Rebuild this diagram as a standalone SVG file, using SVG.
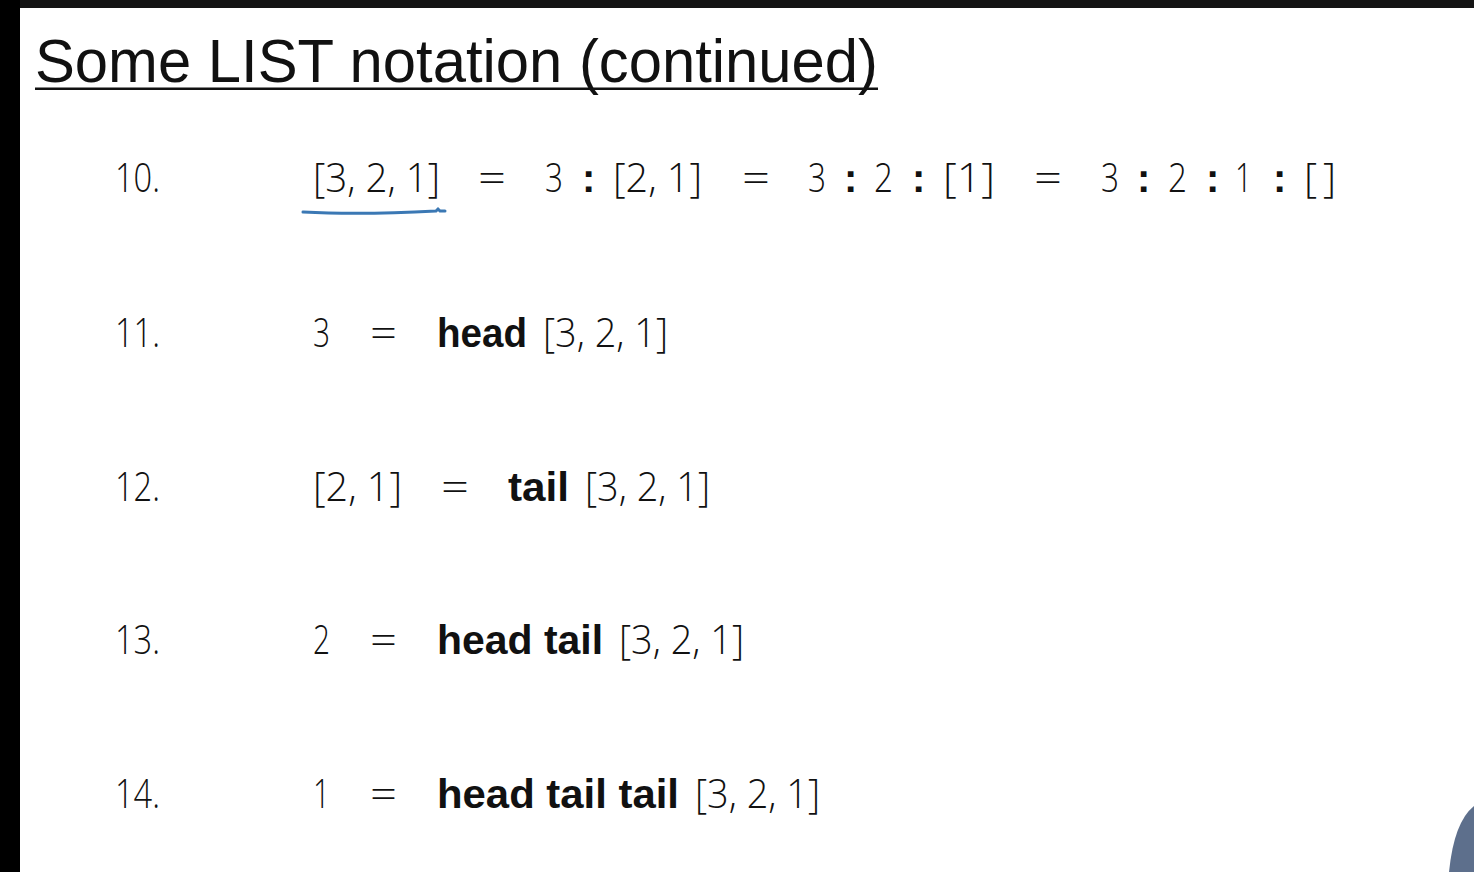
<svg xmlns="http://www.w3.org/2000/svg" width="1474" height="872" viewBox="0 0 1474 872">
<style>
.m{font-family:"Open Sans","Liberation Sans",sans-serif;font-weight:300;font-size:41px;fill:#111}
.b{font-family:"Liberation Sans","Open Sans",sans-serif;font-weight:700;font-size:40px;fill:#111}
.c{font-family:"Liberation Sans",sans-serif;font-weight:700;font-size:40px;fill:#111}
.t{font-family:"Liberation Sans",Arial,sans-serif;font-size:62px;fill:#111}
</style>
<rect x="0" y="0" width="1474" height="872" fill="#ffffff"/>
<rect x="0" y="0" width="1474" height="8" fill="#141414"/>
<rect x="0" y="0" width="20" height="872" fill="#000"/>
<g id="title">
<text class="t" x="35" y="82" textLength="843" lengthAdjust="spacingAndGlyphs">Some LIST notation (continued)</text>
<rect x="35" y="87.5" width="843" height="2.5" fill="#111"/>
</g>
<g id="row10">
<text class="m" x="115" y="192" textLength="45" lengthAdjust="spacingAndGlyphs">10.</text>
<text class="m" x="313" y="192" textLength="127" lengthAdjust="spacingAndGlyphs">[3, 2, 1]</text>
<text class="m" x="478" y="192" textLength="28" lengthAdjust="spacingAndGlyphs">=</text>
<text class="m" x="545" y="192" textLength="18" lengthAdjust="spacingAndGlyphs">3</text>
<text class="c" x="582" y="192">:</text>
<text class="m" x="613" y="192" textLength="89" lengthAdjust="spacingAndGlyphs">[2, 1]</text>
<text class="m" x="742" y="192" textLength="28" lengthAdjust="spacingAndGlyphs">=</text>
<text class="m" x="808" y="192" textLength="18" lengthAdjust="spacingAndGlyphs">3</text>
<text class="c" x="844" y="192">:</text>
<text class="m" x="874" y="192" textLength="19" lengthAdjust="spacingAndGlyphs">2</text>
<text class="c" x="912" y="192">:</text>
<text class="m" x="943" y="192" textLength="52" lengthAdjust="spacingAndGlyphs">[1]</text>
<text class="m" x="1034" y="192" textLength="28" lengthAdjust="spacingAndGlyphs">=</text>
<text class="m" x="1101" y="192" textLength="18" lengthAdjust="spacingAndGlyphs">3</text>
<text class="c" x="1137" y="192">:</text>
<text class="m" x="1168" y="192" textLength="19" lengthAdjust="spacingAndGlyphs">2</text>
<text class="c" x="1206" y="192">:</text>
<text class="m" x="1235" y="192" textLength="17" lengthAdjust="spacingAndGlyphs">1</text>
<text class="c" x="1273" y="192">:</text>
<text class="m" x="1304" y="192">[</text>
<text class="m" x="1323" y="192">]</text>
<path d="M303,212 Q360,215 436,211 L438,209 L440,211 L445,211" fill="none" stroke="#3b78b4" stroke-width="3" stroke-linecap="round"/>
</g>
<g id="row11">
<text class="m" x="115" y="347" textLength="45" lengthAdjust="spacingAndGlyphs">11.</text>
<text class="m" x="313" y="347" textLength="17" lengthAdjust="spacingAndGlyphs">3</text>
<text class="m" x="370" y="347" textLength="27" lengthAdjust="spacingAndGlyphs">=</text>
<text class="b" x="437" y="347" textLength="90" lengthAdjust="spacingAndGlyphs">head</text>
<text class="m" x="543" y="347" textLength="125" lengthAdjust="spacingAndGlyphs">[3, 2, 1]</text>
</g>
<g id="row12">
<text class="m" x="115" y="501" textLength="45" lengthAdjust="spacingAndGlyphs">12.</text>
<text class="m" x="313" y="501" textLength="89" lengthAdjust="spacingAndGlyphs">[2, 1]</text>
<text class="m" x="441" y="501" textLength="28" lengthAdjust="spacingAndGlyphs">=</text>
<text class="b" x="508" y="501" textLength="61" lengthAdjust="spacingAndGlyphs">tail</text>
<text class="m" x="585" y="501" textLength="125" lengthAdjust="spacingAndGlyphs">[3, 2, 1]</text>
</g>
<g id="row13">
<text class="m" x="115" y="654" textLength="45" lengthAdjust="spacingAndGlyphs">13.</text>
<text class="m" x="313" y="654" textLength="17" lengthAdjust="spacingAndGlyphs">2</text>
<text class="m" x="370" y="654" textLength="27" lengthAdjust="spacingAndGlyphs">=</text>
<text class="b" x="437" y="654" textLength="166" lengthAdjust="spacingAndGlyphs">head tail</text>
<text class="m" x="619" y="654" textLength="125" lengthAdjust="spacingAndGlyphs">[3, 2, 1]</text>
</g>
<g id="row14">
<text class="m" x="115" y="808" textLength="45" lengthAdjust="spacingAndGlyphs">14.</text>
<text class="m" x="313" y="808" textLength="17" lengthAdjust="spacingAndGlyphs">1</text>
<text class="m" x="370" y="808" textLength="27" lengthAdjust="spacingAndGlyphs">=</text>
<text class="b" x="437" y="808" textLength="242" lengthAdjust="spacingAndGlyphs">head tail tail</text>
<text class="m" x="695" y="808" textLength="125" lengthAdjust="spacingAndGlyphs">[3, 2, 1]</text>
</g>
<path d="M1474,806 Q1454,822 1449,872 L1474,872 Z" fill="#5d6f8c"/>
</svg>
